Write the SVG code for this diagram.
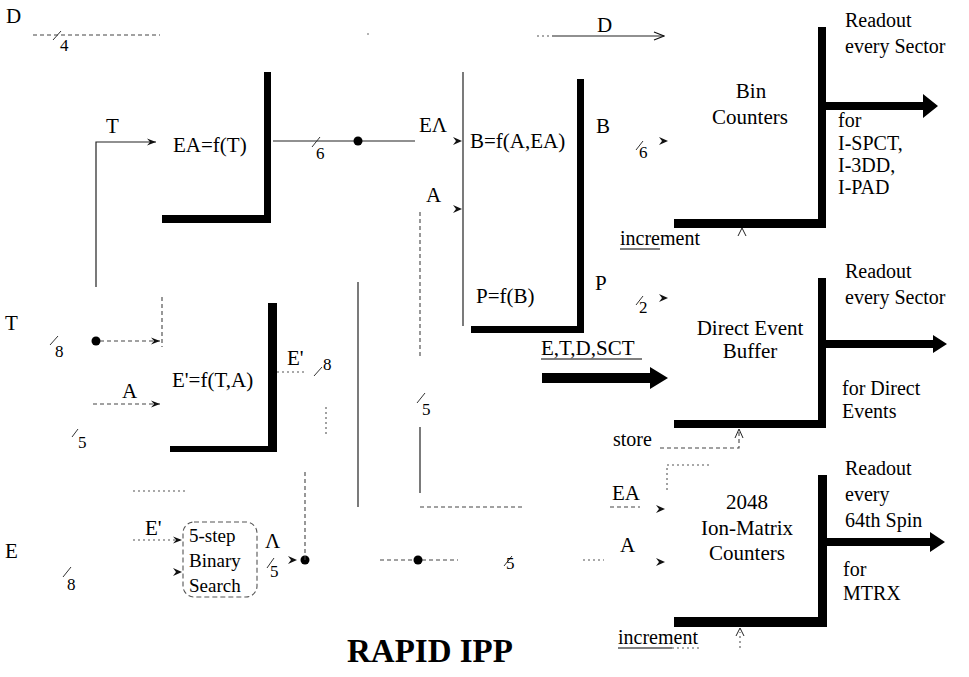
<svg xmlns="http://www.w3.org/2000/svg" width="969" height="677" viewBox="0 0 969 677">
<style>
.lb{font-size:21px}
.nt{font-size:20px}
.nm{font-size:17px}
.bs{font-size:19px}
.ttl{font-size:33px;font-weight:bold}
.ln{stroke:#222;stroke-width:1.2;fill:none}
.dl{stroke:#444;stroke-width:1.1;fill:none;stroke-dasharray:4 3}
.dt{stroke:#555;stroke-width:1.1;fill:none;stroke-dasharray:2 3}
.sl{stroke:#333;stroke-width:1;fill:none}
.bar{fill:#000}
</style>
<defs>
<marker id="ah" markerWidth="10" markerHeight="8" refX="9" refY="4" orient="auto" markerUnits="userSpaceOnUse">
<path d="M0,0.5 L9,4 L0,7.5 L3,4 z" fill="#111"/>
</marker>
<marker id="ao" markerWidth="12" markerHeight="10" refX="11" refY="5" orient="auto" markerUnits="userSpaceOnUse">
<path d="M1,1 L11,5 L1,9" fill="none" stroke="#111" stroke-width="1.2"/>
</marker>
</defs>
<rect width="969" height="677" fill="#fff"/>

<g id="connectors">
<line class="dl" x1="33" y1="35" x2="160" y2="35"/>
<line class="sl" x1="53" y1="40" x2="61" y2="31"/>
<circle cx="368" cy="34" r="0.8" fill="#555"/>
<line class="dt" x1="537" y1="36" x2="552" y2="36"/>
<line class="ln" x1="552" y1="36" x2="664" y2="36" marker-end="url(#ao)"/>
<polyline class="ln" points="96,287 96,142 156,142" marker-end="url(#ah)"/>
<line class="ln" x1="273" y1="141" x2="415" y2="141"/>
<line class="sl" x1="312" y1="147" x2="320" y2="137"/>
<circle cx="358" cy="141" r="4.5" fill="#000"/>
<path d="M453,137 L462,141 L453,145 L456,141 z" fill="#111"/>
<path d="M453,205 L462,209 L453,213 L456,209 z" fill="#111"/>
<line class="dl" x1="420" y1="212" x2="420" y2="358"/>
<line class="ln" x1="420" y1="427" x2="420" y2="493"/>
<line class="sl" x1="417" y1="403" x2="425" y2="393"/>
<line class="ln" x1="358" y1="282" x2="358" y2="507"/>
<line class="dl" x1="420" y1="507" x2="523" y2="507"/>
<line class="dl" x1="610" y1="507" x2="640" y2="507"/>
<path d="M656,505 L665,509 L656,513 L659,509 z" fill="#111"/>
<line class="dl" x1="380" y1="560" x2="458" y2="560"/>
<circle cx="418" cy="560" r="4.5" fill="#000"/>
<line class="sl" x1="504" y1="566" x2="512" y2="556"/>
<line class="dt" x1="583" y1="560" x2="604" y2="560"/>
<path d="M656,558 L665,562 L656,566 L659,562 z" fill="#111"/>
<circle cx="96" cy="341" r="4.5" fill="#000"/>
<line class="dl" x1="100" y1="341" x2="160" y2="341" marker-end="url(#ah)"/>
<line class="sl" x1="50" y1="345" x2="58" y2="336"/>
<line class="dl" x1="162" y1="297" x2="162" y2="347"/>
<line class="dl" x1="93" y1="404" x2="160" y2="404" marker-end="url(#ah)"/>
<line class="sl" x1="72" y1="437" x2="78" y2="429"/>
<line class="dt" x1="277" y1="372" x2="304" y2="372"/>
<line class="sl" x1="314" y1="376" x2="322" y2="367"/>
<line class="dt" x1="326" y1="407" x2="326" y2="437"/>
<line class="sl" x1="63" y1="577" x2="71" y2="567"/>
<line class="dt" x1="133" y1="491" x2="187" y2="491"/>
<line class="dt" x1="133" y1="540" x2="182" y2="540" marker-end="url(#ah)"/>
<path d="M173,568 L182,572 L173,576 L176,572 z" fill="#111"/>
<line class="sl" x1="267" y1="568" x2="274" y2="558"/>
<path d="M288,556 L297,560 L288,564 L291,560 z" fill="#111"/>
<circle cx="305" cy="560" r="4.5" fill="#000"/>
<line class="dl" x1="305" y1="560" x2="305" y2="470"/>
<line class="sl" x1="636" y1="150" x2="643" y2="141"/>
<path d="M659,137 L668,141 L659,145 L662,141 z" fill="#111"/>
<line class="sl" x1="636" y1="305" x2="643" y2="296"/>
<path d="M659,294 L668,298 L659,302 L662,298 z" fill="#111"/>
<path d="M542,373 L650,373 L650,367 L668,378 L650,389 L650,383 L542,383 z" fill="#000"/>
<polyline class="dl" points="660,448 739,448 739,432"/>
<path d="M735,438 L739,429 L743,438" fill="none" stroke="#222" stroke-width="1"/>
<polyline class="dt" points="667,490 667,465 710,465"/>
<path d="M738,236 L742,228 L746,236" fill="none" stroke="#222" stroke-width="1"/>
<line class="dt" x1="740" y1="648" x2="740" y2="632"/>
<path d="M736,636 L740,628 L744,636" fill="none" stroke="#222" stroke-width="1"/>
<path d="M826,102 L923,102 L923,94 L938,106 L923,118 L923,110 L826,110 z" fill="#000"/>
<path d="M826,340 L933,340 L933,335 L947,344 L933,353 L933,348 L826,348 z" fill="#000"/>
<path d="M827,538 L930,538 L930,532 L945,542 L930,552 L930,546 L827,546 z" fill="#000"/>
</g>

<g font-family="Liberation Serif, serif" fill="#000">
<g id="node-ea">
<path class="bar" d="M264,72 L271,72 L271,223 L162,223 L162,215 L264,215 z"/>
<text class="lb" x="173" y="152">EA=f(T)</text>
</g>

<g id="node-b">
<line class="ln" x1="463" y1="72" x2="463" y2="326"/>
<path class="bar" d="M577,79 L584,79 L584,333 L471,333 L471,326 L577,326 z"/>
<text class="lb" x="470" y="148">B=f(A,EA)</text>
<text class="lb" x="476" y="303">P=f(B)</text>
</g>

<g id="node-eprime">
<path class="bar" d="M268,303 L277,303 L277,452 L170,452 L170,446 L268,446 z"/>
<text class="lb" x="172" y="387">E'=f(T,A)</text>
</g>

<g id="node-binsearch">
<rect x="183" y="522" width="74" height="75" rx="11" fill="none" stroke="#555" stroke-width="1.1" stroke-dasharray="5 3"/>
<text class="bs" x="189" y="542">5-step</text>
<text class="bs" x="189" y="567">Binary</text>
<text class="bs" x="189" y="592">Search</text>
</g>

<g id="node-bin">
<path class="bar" d="M818,27 L826,27 L826,228 L674,228 L674,219 L818,219 z"/>
<text class="lb" x="751" y="98" text-anchor="middle">Bin</text>
<text class="lb" x="750" y="124" text-anchor="middle">Counters</text>
</g>

<g id="node-deb">
<path class="bar" d="M818,278 L826,278 L826,428 L674,428 L674,420 L818,420 z"/>
<text class="lb" x="750" y="335" text-anchor="middle">Direct Event</text>
<text class="lb" x="750" y="358" text-anchor="middle">Buffer</text>
</g>

<g id="node-matrix">
<path class="bar" d="M818,475 L827,475 L827,627 L674,627 L674,617 L818,617 z"/>
<text class="lb" x="747" y="509" text-anchor="middle">2048</text>
<text class="lb" x="747" y="535" text-anchor="middle">Ion-Matrix</text>
<text class="lb" x="747" y="560" text-anchor="middle">Counters</text>
</g>

<g id="labels">
<text class="lb" x="6" y="23" font-size="22">D</text>
<text class="nm" x="60" y="51">4</text>
<text class="lb" x="106" y="133">T</text>
<text class="nm" x="316" y="159">6</text>
<text class="lb" x="419" y="132">EΛ</text>
<text class="lb" x="426" y="202">A</text>
<text class="lb" x="597" y="32">D</text>
<text class="lb" x="596" y="133">B</text>
<text class="nm" x="639" y="158">6</text>
<text class="lb" x="595" y="290">P</text>
<text class="nm" x="639" y="313">2</text>
<text class="lb" x="5" y="330">T</text>
<text class="nm" x="55" y="357">8</text>
<text class="lb" x="122" y="398">A</text>
<text class="nm" x="78" y="448">5</text>
<text class="lb" x="287" y="365">E'</text>
<text class="nm" x="323" y="370">8</text>
<text class="nm" x="422" y="415">5</text>
<text class="lb" x="5" y="558">E</text>
<text class="nm" x="67" y="590">8</text>
<text class="lb" x="145" y="535">E'</text>
<text class="lb" x="265" y="548">Λ</text>
<text class="nm" x="270" y="577">5</text>
<text class="nm" x="506" y="569">5</text>
<text class="lb" x="541" y="355">E,T,D,SCT</text>
<line x1="541" y1="359" x2="642" y2="359" stroke="#000" stroke-width="1"/>
<text class="nt" x="613" y="446">store</text>
<text class="lb" x="612" y="500">EA</text>
<text class="lb" x="620" y="552">A</text>
<text class="nt" x="620" y="245">increment</text>
<line x1="620" y1="249" x2="660" y2="249" stroke="#000" stroke-width="1"/>
<text class="nt" x="618" y="644">increment</text>
<line x1="618" y1="648" x2="672" y2="648" stroke="#000" stroke-width="1"/>
<line class="dt" x1="672" y1="648" x2="702" y2="648"/>
<text class="nt" x="845" y="27">Readout</text>
<text class="nt" x="845" y="53">every Sector</text>
<text class="nt" x="838" y="127">for</text>
<text class="nt" x="838" y="150">I-SPCT,</text>
<text class="nt" x="838" y="172">I-3DD,</text>
<text class="nt" x="838" y="194">I-PAD</text>
<text class="nt" x="845" y="278">Readout</text>
<text class="nt" x="845" y="304">every Sector</text>
<text class="nt" x="842" y="395">for Direct</text>
<text class="nt" x="842" y="418">Events</text>
<text class="nt" x="845" y="475">Readout</text>
<text class="nt" x="845" y="501">every</text>
<text class="nt" x="845" y="527">64th Spin</text>
<text class="nt" x="843" y="576">for</text>
<text class="nt" x="843" y="600">MTRX</text>
<text class="ttl" x="347" y="662">RAPID IPP</text>
</g>
</g>
</svg>
